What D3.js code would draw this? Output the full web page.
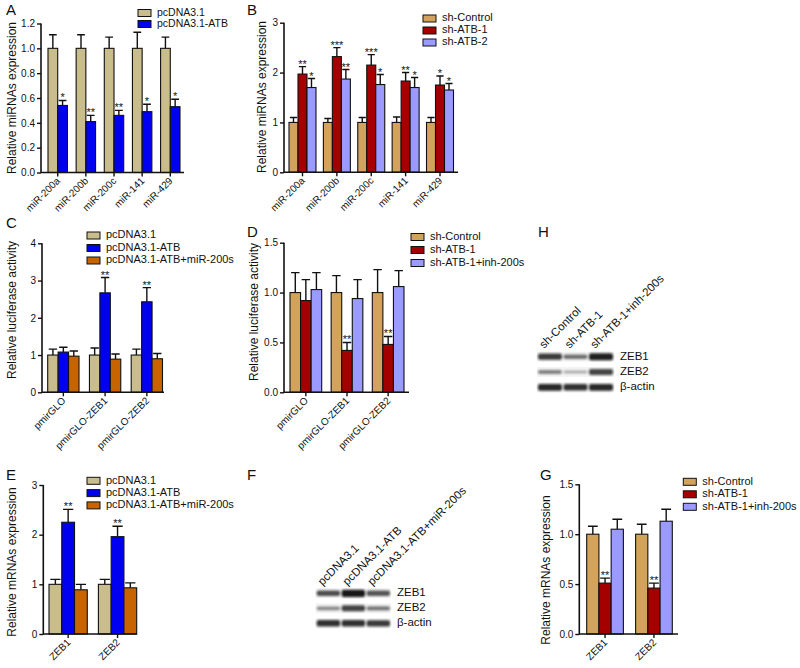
<!DOCTYPE html>
<html>
<head>
<meta charset="utf-8">
<script src="https://cdn.jsdelivr.net/npm/d3@7"></script>
<style>
  body { margin: 0; background: #fff; }
  text { font-family: "Liberation Sans", Arial, sans-serif; fill: #111; }
</style>
</head>
<body>
<svg width="800" height="668"></svg>
<script>
// ---- data ----
var miRNAs = ["miR-200a", "miR-200b", "miR-200c", "miR-141", "miR-429"];
var reporters = ["pmirGLO", "pmirGLO-ZEB1", "pmirGLO-ZEB2"];
var zebs = ["ZEB1", "ZEB2"];

// A
var aCtrl = [1, 1, 1, 1, 1];
var aCtrlSd = [0.11, 0.11, 0.09, 0.13, 0.09];
var aAtb = [0.54, 0.41, 0.46, 0.49, 0.53];
var aAtbSd = [0.04, 0.05, 0.04, 0.06, 0.06];
var aAtbStars = ["*", "**", "**", "*", "*"];

// B
var bCtrl = [1, 1, 1, 1, 1];
var bCtrlSd = [0.10, 0.08, 0.10, 0.11, 0.10];
var bSh1 = [1.97, 2.32, 2.15, 1.83, 1.75];
var bSh1Sd = [0.15, 0.18, 0.21, 0.17, 0.18];
var bSh1Stars = ["**", "***", "***", "**", "*"];
var bSh2 = [1.70, 1.87, 1.76, 1.70, 1.65];
var bSh2Sd = [0.18, 0.19, 0.20, 0.20, 0.13];
var bSh2Stars = ["*", "**", "*", "*", "*"];

// C
var cCtrl = [1, 1, 1];
var cCtrlSd = [0.16, 0.19, 0.16];
var cAtb = [1.08, 2.67, 2.43];
var cAtbSd = [0.13, 0.41, 0.38];
var cAtbStars = ["", "**", "**"];
var cMir = [0.97, 0.89, 0.90];
var cMirSd = [0.14, 0.14, 0.14];

// D
var dCtrl = [1, 1, 1];
var dCtrlSd = [0.20, 0.17, 0.23];
var dSh1 = [0.92, 0.42, 0.48];
var dSh1Sd = [0.21, 0.08, 0.08];
var dSh1Stars = ["", "**", "**"];
var dInh = [1.03, 0.94, 1.06];
var dInhSd = [0.17, 0.19, 0.16];

// E
var eCtrl = [1, 1];
var eCtrlSd = [0.10, 0.10];
var eAtb = [2.25, 1.96];
var eAtbSd = [0.26, 0.21];
var eAtbStars = ["**", "**"];
var eMir = [0.89, 0.93];
var eMirSd = [0.11, 0.10];

// G
var gCtrl = [1, 1];
var gCtrlSd = [0.08, 0.10];
var gSh1 = [0.51, 0.46];
var gSh1Sd = [0.05, 0.05];
var gSh1Stars = ["**", "**"];
var gInh = [1.05, 1.13];
var gInhSd = [0.10, 0.12];

// western blots (relative band strength per lane)
var blotRows = ["ZEB1", "ZEB2", "β-actin"];
var fLanes = ["pcDNA3.1", "pcDNA3.1-ATB", "pcDNA3.1-ATB+miR-200s"];
var fBands = [[0.7, 1.0, 0.65], [0.35, 0.75, 0.45], [0.85, 0.85, 0.8]];
var hLanes = ["sh-Control", "sh-ATB-1", "sh-ATB-1+inh-200s"];
var hBands = [[0.8, 0.5, 0.95], [0.4, 0.15, 0.75], [0.9, 0.85, 0.9]];

// colours
var khaki = "#c9bd8e", blue = "#0000f0", orange = "#c86400";
var gold = "#d3a35c", darkRed = "#a50000", lilac = "#9a9aff";

var svg = d3.select("svg");
svg.append("rect").attr("width", 800).attr("height", 668).attr("fill", "#fff");

var defs = svg.append("defs");
defs.append("filter").attr("id", "blur")
  .attr("x", "-20%").attr("y", "-100%").attr("width", "140%").attr("height", "300%")
  .append("feGaussianBlur").attr("stdDeviation", 0.8);

// ---- bar panel helper ----
function barPanel(cfg) {
  var g = svg.append("g");

  var y = d3.scaleLinear().domain([0, cfg.max]).range([cfg.y0, cfg.y1]);
  var x = d3.scaleBand().domain(cfg.cats).range(cfg.xr).paddingInner(cfg.pad);
  var xs = d3.scaleBand().domain(d3.range(cfg.series.length)).range([0, x.bandwidth()]);
  var bw = xs.bandwidth();

  cfg.series.forEach(function(s, si) {
    var sg = g.append("g");
    var rows = cfg.cats.map(function(c, i) {
      return {cat: c, v: s.values[i], sd: s.sd[i], star: s.stars ? s.stars[i] : ""};
    });
    var cx = function(d) { return x(d.cat) + xs(si) + bw / 2; };

    // error bars (upper only)
    sg.selectAll(".err").data(rows).enter().append("path")
      .attr("d", function(d) {
        var c = cx(d), t = y(d.v + d.sd), cap = bw * 0.4;
        return "M" + c + "," + y(d.v) + "V" + t + "M" + (c - cap) + "," + t + "H" + (c + cap);
      })
      .attr("stroke", "#111").attr("stroke-width", 1.4).attr("fill", "none");

    sg.selectAll("rect").data(rows).enter().append("rect")
      .attr("x", function(d) { return x(d.cat) + xs(si); })
      .attr("y", function(d) { return y(d.v); })
      .attr("width", bw)
      .attr("height", function(d) { return cfg.y0 - y(d.v); })
      .attr("fill", s.color)
      .attr("stroke", "#111").attr("stroke-width", 1.1);

    // significance stars sit just above the cap
    sg.selectAll(".star").data(rows).enter().append("text")
      .attr("x", cx)
      .attr("y", function(d) { return y(d.v + d.sd) + 1; })
      .attr("text-anchor", "middle")
      .style("font-size", "11px")
      .text(function(d) { return d.star; });
  });

  // y axis
  var yAxis = d3.axisLeft(y).tickValues(cfg.ticks).tickSize(4).tickPadding(2)
    .tickFormat(d3.format(cfg.fmt));
  var ya = g.append("g").attr("transform", "translate(" + cfg.x0 + ",0)").call(yAxis);
  ya.select(".domain").remove();
  ya.append("line").attr("x1", 0).attr("x2", 0).attr("y1", cfg.y0 + 0.5).attr("y2", cfg.y1)
    .attr("stroke", "#111").attr("stroke-width", 1.6);
  ya.selectAll(".tick line").attr("stroke", "#111").attr("stroke-width", 1.4);
  ya.selectAll(".tick text").style("font-size", "10px").attr("fill", "#222")
    .style("font-family", "'Liberation Sans', Arial, sans-serif");

  // x axis
  var xg = g.append("g");
  xg.append("line").attr("x1", cfg.x0).attr("x2", cfg.x1).attr("y1", cfg.y0).attr("y2", cfg.y0)
    .attr("stroke", "#111").attr("stroke-width", 1.6);
  cfg.cats.forEach(function(c) {
    var cx = x(c) + x.bandwidth() / 2;
    xg.append("line").attr("x1", cx).attr("x2", cx).attr("y1", cfg.y0).attr("y2", cfg.y0 + 4)
      .attr("stroke", "#111").attr("stroke-width", 1.4);
    xg.append("text")
      .attr("transform", "translate(" + (cx + 3) + "," + (cfg.y0 + 9) + ") rotate(-45)")
      .attr("text-anchor", "end")
      .style("font-size", "10px")
      .text(c);
  });

  // y label
  g.append("text")
    .attr("transform", "translate(" + cfg.labelX + "," + cfg.labelY + ") rotate(-90)")
    .attr("text-anchor", "middle")
    .style("font-size", "12px")
    .text(cfg.label);

  // legend
  cfg.series.forEach(function(s, si) {
    var ly = cfg.legY + si * cfg.legStep;
    g.append("rect").attr("x", cfg.legX).attr("y", ly).attr("width", 13).attr("height", 7)
      .attr("fill", s.color).attr("stroke", "#111").attr("stroke-width", 1);
    g.append("text").attr("x", cfg.legX + 19).attr("y", ly + 3.5)
      .attr("dominant-baseline", "middle")
      .style("font-size", cfg.legFont || "11px")
      .text(s.name);
  });
}

// ---- western blot helper ----
function blot(cfg) {
  var g = svg.append("g");
  var x = d3.scaleBand().domain(cfg.lanes).range([cfg.x0, cfg.x1]).paddingInner(0.06);
  var y = d3.scalePoint().domain(blotRows).range([cfg.rowY[0], cfg.rowY[1]]);

  blotRows.forEach(function(r, ri) {
    g.append("rect").attr("x", cfg.x0 - 1).attr("y", y(r) - 5).attr("width", cfg.x1 - cfg.x0 + 2)
      .attr("height", 10).attr("fill", "#f4f4f4");
    g.selectAll(".band" + ri).data(cfg.bands[ri]).enter().append("rect")
      .attr("x", function(d, i) { return x(cfg.lanes[i]); })
      .attr("width", x.bandwidth())
      .attr("y", function(d) { return y(r) - (1 + d * 2.6); })
      .attr("height", function(d) { return 2 + d * 5.2; })
      .attr("rx", 2)
      .attr("fill", "#111")
      .attr("opacity", function(d) { return 0.2 + d * 0.75; })
      .attr("filter", "url(#blur)");
    g.append("text").attr("x", cfg.x1 + 7).attr("y", y(r)).attr("dominant-baseline", "middle")
      .style("font-size", "11.5px").text(r);
  });

  cfg.lanes.forEach(function(l) {
    var cx = x(l) + x.bandwidth() / 2;
    g.append("text")
      .attr("transform", "translate(" + (cx - 6) + "," + cfg.labY + ") rotate(-45)")
      .style("font-size", "11.5px")
      .text(l);
  });
}

// ---- panels ----
barPanel({
  x0: 41, x1: 184, xr: [48, 180], pad: 0.31, y0: 172.5, y1: 23.5, max: 1.2,
  ticks: [0, 0.2, 0.4, 0.6, 0.8, 1.0, 1.2], fmt: ".1f", cats: miRNAs,
  series: [
    {name: "pcDNA3.1", color: khaki, values: aCtrl, sd: aCtrlSd},
    {name: "pcDNA3.1-ATB", color: blue, values: aAtb, sd: aAtbSd, stars: aAtbStars}
  ],
  label: "Relative miRNAs expression", labelX: 16, labelY: 98,
  legX: 138, legY: 9.5, legStep: 11, legFont: "10.5px"
});

barPanel({
  x0: 284, x1: 458, xr: [289, 453.5], pad: 0.215, y0: 172.3, y1: 22.7, max: 3,
  ticks: [0, 1, 2, 3], fmt: "d", cats: miRNAs,
  series: [
    {name: "sh-Control", color: gold, values: bCtrl, sd: bCtrlSd},
    {name: "sh-ATB-1", color: darkRed, values: bSh1, sd: bSh1Sd, stars: bSh1Stars},
    {name: "sh-ATB-2", color: lilac, values: bSh2, sd: bSh2Sd, stars: bSh2Stars}
  ],
  label: "Relative miRNAs expression", labelX: 266, labelY: 97,
  legX: 423, legY: 15, legStep: 12
});

barPanel({
  x0: 42, x1: 164, xr: [47.7, 162.5], pad: 0.25, y0: 392.3, y1: 243.3, max: 4,
  ticks: [0, 1, 2, 3, 4], fmt: "d", cats: reporters,
  series: [
    {name: "pcDNA3.1", color: khaki, values: cCtrl, sd: cCtrlSd},
    {name: "pcDNA3.1-ATB", color: blue, values: cAtb, sd: cAtbSd, stars: cAtbStars},
    {name: "pcDNA3.1-ATB+miR-200s", color: orange, values: cMir, sd: cMirSd}
  ],
  label: "Relative luciferase activity", labelX: 16, labelY: 310,
  legX: 87, legY: 232, legStep: 12.5
});

barPanel({
  x0: 284, x1: 409, xr: [290, 404], pad: 0.23, y0: 392.3, y1: 242.7, max: 1.5,
  ticks: [0, 0.5, 1.0, 1.5], fmt: ".1f", cats: reporters,
  series: [
    {name: "sh-Control", color: gold, values: dCtrl, sd: dCtrlSd},
    {name: "sh-ATB-1", color: darkRed, values: dSh1, sd: dSh1Sd, stars: dSh1Stars},
    {name: "sh-ATB-1+inh-200s", color: lilac, values: dInh, sd: dInhSd}
  ],
  label: "Relative luciferase activity", labelX: 258, labelY: 312,
  legX: 411, legY: 233.5, legStep: 13
});

barPanel({
  x0: 43.3, x1: 137, xr: [49, 136.7], pad: 0.225, y0: 634, y1: 485, max: 3,
  ticks: [0, 1, 2, 3], fmt: "d", cats: zebs,
  series: [
    {name: "pcDNA3.1", color: khaki, values: eCtrl, sd: eCtrlSd},
    {name: "pcDNA3.1-ATB", color: blue, values: eAtb, sd: eAtbSd, stars: eAtbStars},
    {name: "pcDNA3.1-ATB+miR-200s", color: orange, values: eMir, sd: eMirSd}
  ],
  label: "Relative mRNAs expression", labelX: 16, labelY: 562,
  legX: 87, legY: 477.3, legStep: 12.3
});

barPanel({
  x0: 579.3, x1: 678, xr: [586.7, 672.3], pad: 0.25, y0: 634, y1: 484.3, max: 1.5,
  ticks: [0, 0.5, 1.0, 1.5], fmt: ".1f", cats: zebs,
  series: [
    {name: "sh-Control", color: gold, values: gCtrl, sd: gCtrlSd},
    {name: "sh-ATB-1", color: darkRed, values: gSh1, sd: gSh1Sd, stars: gSh1Stars},
    {name: "sh-ATB-1+inh-200s", color: lilac, values: gInh, sd: gInhSd}
  ],
  label: "Relative mRNAs expression", labelX: 550, labelY: 570,
  legX: 683.3, legY: 478.3, legStep: 12.5
});

blot({x0: 316.7, x1: 390, rowY: [593.3, 623.3], lanes: fLanes, bands: fBands, labY: 586});
blot({x0: 538, x1: 613, rowY: [356.7, 387.3], lanes: hLanes, bands: hBands, labY: 349});

// panel letters
var letters = [["A", 6, 15], ["B", 247, 15], ["C", 6, 228], ["D", 247, 237],
               ["H", 538, 237], ["E", 6, 480], ["F", 247, 480], ["G", 540, 480]];
svg.selectAll(".letter").data(letters).enter().append("text")
  .attr("x", function(d) { return d[1]; })
  .attr("y", function(d) { return d[2]; })
  .style("font-size", "15px")
  .text(function(d) { return d[0]; });
</script>
</body>
</html>
